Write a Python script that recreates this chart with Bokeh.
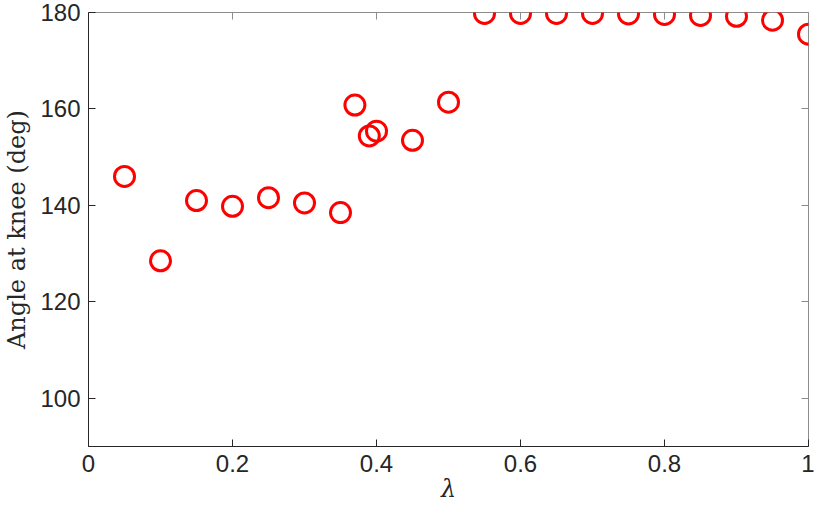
from bokeh.plotting import figure
from bokeh.models import LinearAxis, Range1d, FixedTicker, ColumnDataSource
from bokeh.embed import file_html
from bokeh.resources import INLINE

lam = [0.05, 0.10, 0.15, 0.20, 0.25, 0.30, 0.35, 0.37, 0.39, 0.40, 0.45, 0.50,
       0.55, 0.60, 0.65, 0.70, 0.75, 0.80, 0.85, 0.90, 0.95, 1.00]
angle = [146.0, 128.5, 141.0, 139.8, 141.6, 140.5, 138.5, 160.8, 154.4, 155.4, 153.5, 161.4,
         179.8, 179.8, 179.8, 179.8, 179.7, 179.6, 179.4, 179.2, 178.4, 175.5]
x_ticks = [0, 0.2, 0.4, 0.6, 0.8, 1.0]
x_tick_labels = ["0", "0.2", "0.4", "0.6", "0.8", "1"]
y_ticks = [100, 120, 140, 160, 180]

src = ColumnDataSource(data=dict(x=lam, y=angle))

p = figure(width=814, height=510, output_backend="svg", toolbar_location=None,
           x_range=Range1d(0, 1), y_range=Range1d(90, 180),
           min_border_left=86, min_border_right=6, min_border_top=12, min_border_bottom=64)

p.grid.visible = False
p.outline_line_color = "#8c8c8c"
p.outline_line_width = 1

axcol = "#262626"
for ax in [p.xaxis[0], p.yaxis[0]]:
    ax.axis_line_color = axcol
    ax.major_tick_line_color = axcol
    ax.major_tick_in = 7
    ax.major_tick_out = 0
    ax.minor_tick_line_color = None
    ax.major_label_text_font = "Liberation Sans"
    ax.major_label_text_font_size = "24px"
    ax.major_label_text_color = axcol

p.xaxis[0].ticker = FixedTicker(ticks=x_ticks)
p.xaxis[0].major_label_overrides = dict(zip(x_ticks, x_tick_labels))
p.xaxis[0].major_label_standoff = 8
p.xaxis[0].axis_label = "λ"
p.xaxis[0].axis_label_text_font = "DejaVu Serif"
p.xaxis[0].axis_label_text_font_style = "italic"
p.xaxis[0].axis_label_text_font_size = "24px"
p.xaxis[0].axis_label_text_color = axcol
p.xaxis[0].axis_label_standoff = 0

p.yaxis[0].ticker = FixedTicker(ticks=y_ticks)
p.yaxis[0].major_label_standoff = 8
p.yaxis[0].axis_label = "Angle at knee (deg)"
p.yaxis[0].axis_label_text_font = "DejaVu Serif"
p.yaxis[0].axis_label_text_font_style = "normal"
p.yaxis[0].axis_label_text_font_size = "24px"
p.yaxis[0].axis_label_text_color = axcol
p.yaxis[0].axis_label_standoff = 6

# box ticks on top and right
top = LinearAxis(ticker=FixedTicker(ticks=x_ticks), major_tick_in=7, major_tick_out=0,
                 minor_tick_line_color=None, axis_line_color=None,
                 major_tick_line_color="#8c8c8c",
                 major_label_text_font_size="0px", major_label_standoff=0)
right = LinearAxis(ticker=FixedTicker(ticks=y_ticks), major_tick_in=7, major_tick_out=0,
                   minor_tick_line_color=None, axis_line_color=None,
                   major_tick_line_color="#8c8c8c",
                   major_label_text_font_size="0px", major_label_standoff=0)
p.add_layout(top, "above")
p.add_layout(right, "right")

p.scatter("x", "y", source=src, marker="circle", size=20, fill_color=None,
          line_color="#ff0000", line_width=3)

open("out.html", "w").write(file_html(p, INLINE))
